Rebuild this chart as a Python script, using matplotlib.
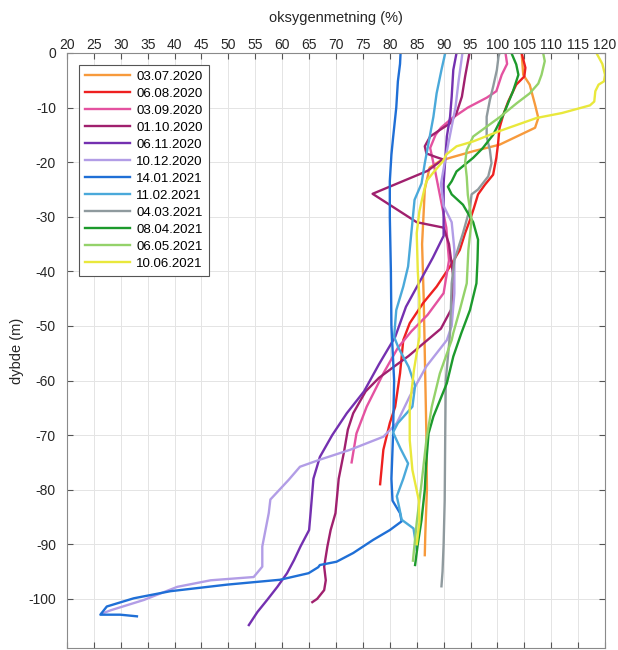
import matplotlib
matplotlib.use("Agg")
import matplotlib.pyplot as plt

plt.rcParams['font.family'] = ['Liberation Sans', 'DejaVu Sans']
plt.rcParams['axes.unicode_minus'] = False

# Survey dates (legend labels)
dates = ["03.07.2020", "06.08.2020", "03.09.2020", "01.10.2020", "06.11.2020",
         "10.12.2020", "14.01.2021", "11.02.2021", "04.03.2021", "08.04.2021",
         "06.05.2021", "10.06.2021"]

# Oxygen saturation (%) and depth (m) profiles, one pair per survey
sat_0307 = [104.5, 104.8, 106.0, 107.0, 107.6, 107.0, 100.4, 95.5, 91.2, 89.3, 87.4, 86.5, 86.0, 86.3, 86.5, 86.8, 86.9, 86.6, 86.5]
dep_0307 = [0, -4, -5.8, -9.5, -11.9, -13.7, -16.8, -18, -19.2, -19.8, -21, -25, -35, -45, -55, -70, -80, -88, -92]

sat_0608 = [104.5, 105.2, 105.0, 103.5, 102.0, 101.1, 100.4, 100.1, 99.8, 99.2, 97.7, 96.4, 95.6, 94.9, 94.0, 93.0, 91.2, 88.7, 86.2, 83.7, 82.5, 81.9, 81.0, 80.0, 78.8, 78.2]
dep_0608 = [0, -2.7, -4.3, -5.8, -8.9, -11.3, -13.7, -16.8, -19.2, -22.3, -24.1, -25.9, -28.5, -30.6, -33, -36.1, -39.1, -42.8, -45.8, -49.5, -52.6, -58.7, -64.8, -67.8, -72.7, -79]

sat_0309 = [101.5, 101.8, 100.8, 99.8, 98.0, 94.5, 91.5, 89.5, 88.5, 87.5, 88.5, 89.5, 90.5, 91.0, 90.0, 87.0, 84.0, 81.5, 78.8, 75.7, 73.8, 72.9]
dep_0309 = [0, -2, -4, -7, -8.2, -10, -12, -13.7, -15, -17.4, -22, -27, -32, -38, -44, -48, -51, -54, -58.7, -64.8, -69.7, -75]

sat_0110 = [94.8, 94.0, 93.4, 92.4, 91.2, 89.3, 87.5, 86.5, 86.8, 88.4, 89.9, 88.5, 87.0, 76.8, 85.0, 90.0, 91.0, 91.8, 91.4, 89.5, 86.5, 83.5, 81.0, 78.0, 75.5, 73.2, 72.2, 71.5, 70.5, 70.2, 69.9, 69.0, 68.4, 67.8, 68.1, 67.8, 66.5, 65.6]
dep_0110 = [0, -4.3, -8, -11, -12.9, -14.1, -15.3, -17.1, -18.4, -19, -19.5, -20.5, -21.6, -25.8, -31, -32, -35, -41, -47, -50.5, -53, -55.5, -57.3, -59.5, -62, -66, -69, -73, -78, -81.2, -84.3, -87.4, -90.4, -94.1, -96.6, -98.4, -100, -100.6]

sat_0611 = [92.4, 91.8, 91.5, 91.2, 90.6, 90.3, 90.0, 90.0, 90.0, 88.0, 85.5, 83.0, 81.0, 78.0, 75.2, 72.0, 69.3, 67.0, 65.8, 65.3, 65.0, 63.4, 62.2, 60.9, 59.1, 57.2, 55.4, 53.8]
dep_0611 = [0, -3.1, -8, -11.7, -15.3, -19.6, -23.9, -27, -33.5, -37.5, -42, -46.5, -52, -57, -62, -66, -70, -74, -78, -84, -87.4, -90.4, -92.9, -95.3, -97.8, -100.2, -102.4, -104.8]

sat_1012 = [93.5, 92.8, 92.2, 91.2, 90.3, 89.5, 90.0, 91.5, 92.0, 92.0, 91.5, 90.6, 86.8, 83.7, 81.3, 78.8, 72.6, 67.0, 63.3, 61.2, 57.8, 57.5, 56.3, 56.3, 54.7, 46.7, 40.5, 34.3, 28.1, 26.5]
dep_1012 = [0, -5, -10, -15, -19.5, -24, -28, -31, -36, -44, -50, -52.6, -57.4, -62.9, -67.8, -70.3, -72.7, -74.5, -75.8, -78.2, -81.8, -84.3, -90.4, -94.1, -96, -96.6, -97.8, -100.2, -102.1, -102.7]

sat_1401 = [82.0, 81.9, 81.5, 81.2, 80.6, 80.3, 80.0, 80.0, 80.2, 80.3, 80.8, 80.6, 80.3, 80.5, 81.9, 82.2, 80.0, 76.9, 73.2, 70.1, 67.0, 66.7, 64.9, 59.6, 49.7, 39.2, 32.4, 27.4, 26.2, 29.9, 33.0]
dep_1401 = [0, -2, -5.2, -10, -15.6, -18.6, -23.5, -30, -40, -50, -60, -70, -78, -82, -84.3, -85.8, -87.4, -89.2, -91.6, -93.2, -93.8, -94.2, -95.3, -96.5, -97.4, -98.6, -99.9, -101.4, -102.9, -102.9, -103.2]

sat_1102 = [90.3, 89.6, 88.7, 88.1, 87.2, 86.5, 85.9, 84.6, 84.0, 83.4, 82.5, 81.2, 80.8, 81.6, 83.5, 84.7, 84.2, 81.5, 80.6, 82.0, 83.4, 82.5, 81.3, 81.8, 82.2, 84.4, 85.0]
dep_1102 = [0, -3.1, -7.4, -11.7, -16.5, -20.2, -23.9, -26.9, -33, -39.1, -42.8, -47.1, -52, -54, -57.5, -61, -64.8, -67.8, -69.5, -72.5, -75.2, -78, -81.2, -83.5, -85.5, -87.1, -91]

sat_0403 = [100.4, 100.2, 99.9, 99.2, 98.6, 98.0, 98.0, 98.6, 98.9, 98.3, 96.4, 95.2, 94.9, 93.6, 92.0, 91.5, 91.2, 90.4, 90.3, 90.2, 90.0, 89.8, 89.6]
dep_0403 = [0, -0.7, -3.1, -6.2, -8.6, -11.7, -15.3, -17.8, -20.2, -22.6, -25, -25.9, -28.4, -33, -38, -42.2, -51.3, -60, -70, -82, -90, -95, -97.7]

sat_0804 = [102.6, 103.5, 103.9, 102.9, 101.1, 99.2, 97.3, 95.5, 92.4, 91.5, 90.8, 91.5, 93.6, 95.5, 96.4, 96.3, 96.1, 94.9, 93.3, 91.8, 90.6, 88.1, 87.2, 86.7, 86.5, 85.9, 85.2, 84.7]
dep_0804 = [0, -2.1, -4, -7, -11.3, -15, -17.4, -19.2, -21.7, -23.5, -24.5, -25.9, -27.8, -31, -34.2, -38, -42.2, -47.1, -51.3, -55.6, -60.5, -66.6, -69.7, -76, -80, -85.5, -90, -93.8]

sat_0605 = [108.5, 108.8, 108.2, 107.6, 106.0, 103.6, 100.5, 98.0, 95.5, 94.3, 94.0, 94.3, 94.5, 95.2, 94.6, 94.3, 93.0, 91.8, 91.5, 89.3, 87.8, 86.8, 85.9, 85.0, 84.3]
dep_0605 = [0, -1.5, -4, -5.6, -7.4, -9.2, -11.7, -13.5, -15.3, -17.8, -20, -22.7, -26, -30.6, -36.1, -42.2, -47.1, -51.3, -52.6, -58.7, -64.8, -70.9, -78.8, -86, -93]

sat_1006 = [118.4, 119.5, 120.0, 119.8, 118.8, 118.2, 118.0, 117.2, 112.0, 107.3, 100.4, 95.5, 92.4, 90.5, 89.9, 88.0, 86.8, 86.2, 85.5, 85.0, 85.2, 85.5, 85.5, 84.5, 83.7, 83.7, 84.2, 85.4, 85.5, 85.0]
dep_1006 = [0, -2, -4, -5.2, -5.8, -7, -8.9, -9.6, -11, -11.9, -14.3, -16.2, -17.1, -18.6, -19.8, -22, -23.5, -25.9, -29, -33, -40, -45, -52, -58, -64.8, -70.9, -76.4, -82, -86, -90]

saturation = [sat_0307, sat_0608, sat_0309, sat_0110, sat_0611, sat_1012,
              sat_1401, sat_1102, sat_0403, sat_0804, sat_0605, sat_1006]
depths = [dep_0307, dep_0608, dep_0309, dep_0110, dep_0611, dep_1012,
          dep_1401, dep_1102, dep_0403, dep_0804, dep_0605, dep_1006]

colors = ["#F79A3C", "#EE2020", "#E452A0", "#A0206E", "#7430B0", "#B29DE6",
          "#1F6FD6", "#4AA9DA", "#8F9A9E", "#1C9A2C", "#94D26A", "#E9E83C"]

xticks = list(range(20, 121, 5))
yticks = list(range(-100, 1, 10))

fig = plt.figure(figsize=(6.18, 6.5), dpi=100)
ax = fig.add_axes([0.1084, 0.0031, 0.8706, 0.9154])

for sat, dep, col, lab in zip(saturation, depths, colors, dates):
    ax.plot(sat, dep, color=col, lw=1.7, label=lab, solid_joinstyle='round')

ax.set_xlim(20, 120)
ax.set_ylim(-109, 0)
ax.set_xticks(xticks)
ax.set_yticks(yticks)
ax.xaxis.tick_top()
ax.xaxis.set_label_position('top')
ax.tick_params(axis='both', which='both', direction='in', length=4,
               top=True, bottom=True, left=True, right=True,
               labelsize=10, colors='#555555', labelcolor='#262626')
ax.tick_params(axis='x', pad=1)
ax.tick_params(axis='y', pad=8)
ax.grid(True, color='#e4e4e4', lw=0.7)
ax.set_axisbelow(True)
for sp in ax.spines.values():
    sp.set_color('#8a8a8a')
    sp.set_linewidth(0.8)

ax.set_xlabel('oksygenmetning (%)', fontsize=10.5, color='#262626', labelpad=11)
ax.set_ylabel('dybde (m)', fontsize=10.5, color='#262626', labelpad=3)

leg = ax.legend(loc='upper left', bbox_to_anchor=(0.0223, 0.980), borderaxespad=0,
                fontsize=9.5, handlelength=3.4, labelspacing=0.36,
                fancybox=False, framealpha=1, edgecolor='#555555',
                borderpad=0.45, handletextpad=0.5)
leg.get_frame().set_linewidth(0.8)

fig.savefig('out.png', dpi=100)
